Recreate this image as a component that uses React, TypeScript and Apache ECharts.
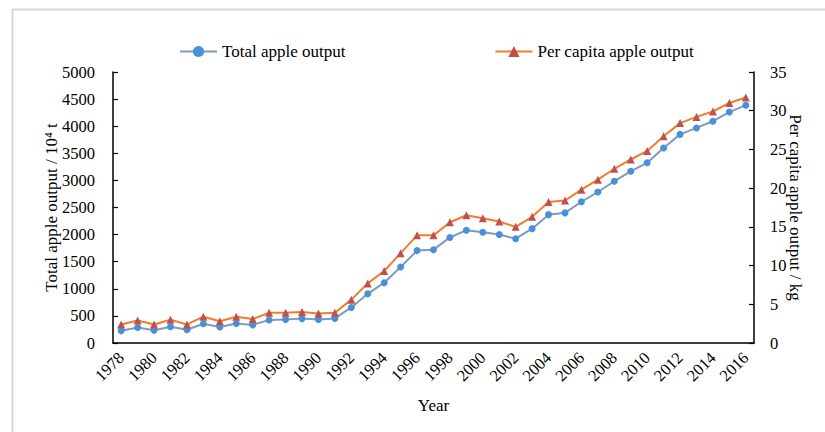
import React, { useEffect, useRef } from "react";
import * as echarts from "echarts";

const years: string[] = [
  "1978","1979","1980","1981","1982","1983","1984","1985","1986","1987",
  "1988","1989","1990","1991","1992","1993","1994","1995","1996","1997",
  "1998","1999","2000","2001","2002","2003","2004","2005","2006","2007",
  "2008","2009","2010","2011","2012","2013","2014","2015","2016",
];

// Total apple output, 10^4 t
const totalOutput: number[] = [
  227, 287, 236, 300, 244, 354, 295, 361, 334, 426,
  434, 450, 432, 454, 656, 907, 1113, 1401, 1705, 1722,
  1948, 2080, 2043, 2002, 1924, 2110, 2368, 2401, 2606, 2786,
  2985, 3168, 3326, 3599, 3849, 3968, 4092, 4261, 4388,
];

// Per capita apple output, kg
const perCapita: number[] = [
  2.4, 2.9, 2.4, 3.0, 2.4, 3.4, 2.8, 3.4, 3.1, 3.9,
  3.9, 4.0, 3.8, 3.9, 5.6, 7.7, 9.3, 11.6, 13.9, 13.9,
  15.6, 16.5, 16.1, 15.7, 15.0, 16.3, 18.2, 18.4, 19.8, 21.1,
  22.5, 23.7, 24.8, 26.7, 28.4, 29.2, 29.9, 31.0, 31.7,
];

const seriesNames: string[] = ["Total apple output", "Per capita apple output"];

const FONT = "Liberation Serif, Times New Roman, serif";

export default function App() {
  const ref = useRef<HTMLDivElement>(null);

  useEffect(() => {
    if (!ref.current) return;
    const chart = echarts.init(ref.current, null, { renderer: "svg" });
    const tickText = { color: "#000", fontFamily: FONT, fontSize: 16.5 };
    const nameText = { color: "#000", fontFamily: FONT, fontSize: 17 };
    chart.setOption({
      animation: false,
      backgroundColor: "#fff",
      textStyle: { fontFamily: FONT },
      graphic: [
        {
          type: "rect",
          shape: { x: 12.5, y: 9.5, width: 840, height: 450 },
          style: { fill: "none", stroke: "#d6d6d6", lineWidth: 2 },
          silent: true,
        },
      ],
      legend: {
        left: 174,
        top: 38,
        itemWidth: 37,
        itemHeight: 14,
        itemGap: 149,
        textStyle: { ...nameText },
        data: seriesNames,
      },
      grid: {
        left: 113,
        right: 71,
        top: 72,
        bottom: 89,
        containLabel: false,
        outerBoundsMode: "none",
      },
      xAxis: {
        type: "category",
        data: years,
        boundaryGap: true,
        name: "Year",
        nameLocation: "middle",
        nameGap: 54,
        nameMoveOverlap: false,
        nameTextStyle: { ...nameText },
        axisLine: { lineStyle: { color: "#000", width: 1.5 } },
        axisTick: { inside: true, length: 5, interval: 0, lineStyle: { color: "#000", width: 1.2 } },
        axisLabel: { ...tickText, interval: 1, rotate: 45, margin: 12 },
        splitLine: { show: false },
      },
      yAxis: [
        {
          type: "value",
          min: 0,
          max: 5000,
          interval: 500,
          name: "Total apple output / 10⁴ t",
          nameLocation: "middle",
          nameGap: 53,
          nameMoveOverlap: false,
          nameTextStyle: { ...nameText },
          axisLine: { show: true, lineStyle: { color: "#000", width: 1.5 } },
          axisTick: { show: true, inside: true, length: 5, lineStyle: { color: "#000", width: 1.2 } },
          axisLabel: { ...tickText, margin: 18, formatter: (v: number) => String(v) },
          splitLine: { show: false },
        },
        {
          type: "value",
          min: 0,
          max: 35,
          interval: 5,
          position: "right",
          name: "Per capita apple output / kg",
          nameLocation: "middle",
          nameRotate: -90,
          nameGap: 33,
          nameMoveOverlap: false,
          nameTextStyle: { ...nameText },
          axisLine: { show: true, lineStyle: { color: "#000", width: 1.5 } },
          axisTick: { show: true, inside: true, length: 5, lineStyle: { color: "#000", width: 1.2 } },
          axisLabel: { ...tickText, margin: 16, formatter: (v: number) => String(v) },
          splitLine: { show: false },
        },
      ],
      series: [
        {
          name: seriesNames[0],
          type: "line",
          yAxisIndex: 0,
          data: totalOutput,
          symbol: "circle",
          symbolSize: 7,
          showAllSymbol: true,
          lineStyle: { color: "#8099c0", width: 2 },
          itemStyle: { color: "#4a8fdc" },
        },
        {
          name: seriesNames[1],
          type: "line",
          yAxisIndex: 1,
          data: perCapita,
          symbol: "triangle",
          symbolSize: 8,
          showAllSymbol: true,
          lineStyle: { color: "#f07d2a", width: 2 },
          itemStyle: { color: "#c0504d" },
        },
      ],
    });
    return () => chart.dispose();
  }, []);

  return (
    <div
      ref={ref}
      style={{ position: "fixed", left: 0, top: 0, width: 825, height: 432 }}
    />
  );
}
